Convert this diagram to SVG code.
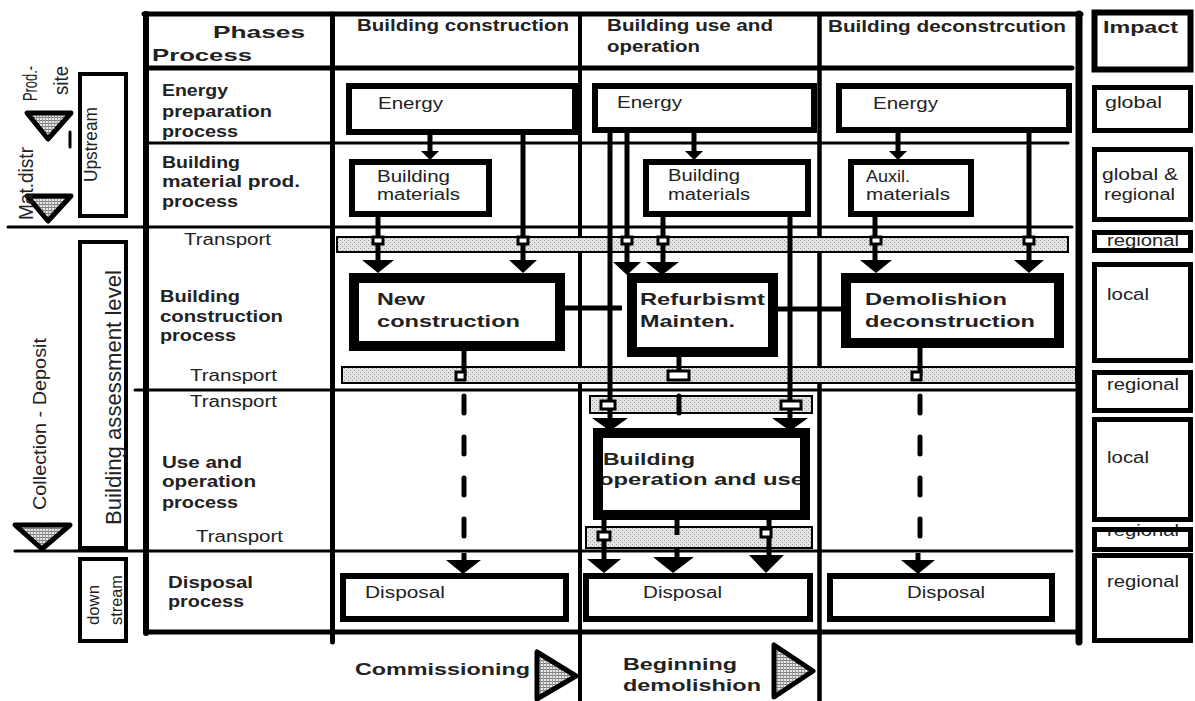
<svg xmlns="http://www.w3.org/2000/svg" width="1195" height="701" viewBox="0 0 1195 701">
<style>
text{font-family:"Liberation Sans",Arial,sans-serif;fill:#222}
.b{font-weight:bold;font-size:16px}
.h{font-weight:bold;font-size:17px}
.r{font-size:16px}
.rot{font-size:18px}
.fr{stroke:#000;stroke-linecap:round;fill:none}
.bx{fill:#fff;stroke:#000}
.band{fill:url(#dots);stroke:#000;stroke-width:2}
.cn{stroke:#000;stroke-width:5;fill:none}
.ah{fill:#000}
.jn{fill:#fff;stroke:#000;stroke-width:3}
.tri{fill:url(#hatch);stroke:#000;stroke-width:5;stroke-linejoin:round}
</style>
<defs>
<pattern id="dots" width="4" height="4" patternUnits="userSpaceOnUse">
<rect width="4" height="4" fill="#e4e4e4"/>
<rect width="1" height="1" fill="#999"/>
<rect x="2" y="2" width="1" height="1" fill="#999"/>
</pattern>
<pattern id="hatch" width="3" height="3" patternUnits="userSpaceOnUse">
<rect width="3" height="3" fill="#e8e8e8"/>
<rect width="3" height="1" fill="#777"/>
<rect width="1" height="3" fill="#999"/>
</pattern>
</defs>
<rect width="1195" height="701" fill="#fff"/>

<!-- frame and grid -->
<g id="grid">
<line class="fr" x1="8" y1="227" x2="1072" y2="227" stroke-width="3"/>
<line class="fr" x1="135" y1="390" x2="1075" y2="390" stroke-width="3"/>
<line class="fr" x1="15" y1="551" x2="1072" y2="551" stroke-width="3"/>
<line class="fr" x1="146" y1="143" x2="1068" y2="143" stroke-width="3"/>
<line class="fr" x1="146" y1="68" x2="1072" y2="68" stroke-width="5"/>
<line class="fr" x1="144" y1="14" x2="1081" y2="14" stroke-width="5"/>
<line class="fr" x1="146" y1="14" x2="146" y2="633" stroke-width="6"/>
<line class="fr" x1="146" y1="632" x2="1079" y2="632" stroke-width="5"/>
<line class="fr" x1="1079" y1="14" x2="1079" y2="642" stroke-width="7"/>
<line class="fr" x1="332.5" y1="14" x2="332.5" y2="642" stroke-width="5"/>
<line class="fr" x1="580" y1="14" x2="580" y2="701" stroke-width="4"/>
<line class="fr" x1="819.5" y1="14" x2="819.5" y2="701" stroke-width="4.5"/>
<line class="fr" x1="70" y1="132" x2="70" y2="147" stroke-width="3"/>
</g>

<!-- transport bands -->
<g id="bands">
<rect class="band" x="337" y="237" width="731" height="15"/>
<rect class="band" x="342" y="367" width="734" height="16"/>
<rect class="band" x="590" y="396" width="222" height="17"/>
<rect class="band" x="586" y="527" width="226" height="21"/>
</g>

<!-- connectors -->
<g id="connectors">
<line class="cn" x1="430" y1="135" x2="430" y2="153"/>
<line class="cn" x1="523" y1="135" x2="523" y2="262"/>
<line class="cn" x1="378" y1="217" x2="378" y2="262" stroke-width="6"/>
<line class="cn" x1="464" y1="351" x2="464" y2="376"/>
<line class="cn" x1="464" y1="396" x2="464" y2="537" stroke-width="6" stroke-linecap="round" stroke-dasharray="17 24"/>
<line class="cn" x1="464" y1="553" x2="464" y2="562"/>
<line class="cn" x1="610" y1="133" x2="610" y2="420"/>
<line class="cn" x1="627" y1="133" x2="627" y2="264"/>
<line class="cn" x1="694" y1="133" x2="694" y2="152"/>
<line class="cn" x1="663" y1="217" x2="663" y2="264" stroke-width="6"/>
<line class="cn" x1="790" y1="217" x2="790" y2="420"/>
<line class="cn" x1="558" y1="308" x2="622" y2="308" stroke-width="6"/>
<line class="cn" x1="776" y1="309" x2="843" y2="309" stroke-width="6"/>
<line class="cn" x1="679" y1="350" x2="679" y2="372" stroke-width="6"/>
<line class="cn" x1="679" y1="396" x2="679" y2="445" stroke-width="6" stroke-linecap="round" stroke-dasharray="17 24"/>
<line class="cn" x1="604" y1="515" x2="604" y2="562" stroke-width="5"/>
<line class="cn" x1="677" y1="515" x2="677" y2="535" stroke-width="6"/>
<line class="cn" x1="677" y1="548" x2="677" y2="560" stroke-width="6"/>
<line class="cn" x1="769" y1="515" x2="769" y2="560" stroke-width="6"/>
<line class="cn" x1="898" y1="133" x2="898" y2="152"/>
<line class="cn" x1="1029" y1="133" x2="1029" y2="262"/>
<line class="cn" x1="875" y1="217" x2="875" y2="262" stroke-width="6"/>
<line class="cn" x1="920" y1="348" x2="920" y2="376"/>
<line class="cn" x1="920" y1="396" x2="920" y2="537" stroke-width="6" stroke-linecap="round" stroke-dasharray="17 24"/>
<line class="cn" x1="918" y1="553" x2="918" y2="562"/>
<!-- arrowheads -->
<polygon class="ah" points="421,151 439,151 430,160"/>
<polygon class="ah" points="509,260 537,260 523,273"/>
<polygon class="ah" points="362,260 394,260 378,273"/>
<polygon class="ah" points="446,560 481,560 463,574"/>
<polygon class="ah" points="592,418 628,418 610,431"/>
<polygon class="ah" points="613,262 641,262 627,275"/>
<polygon class="ah" points="685,151 703,151 694,160"/>
<polygon class="ah" points="646,262 679,262 662,275"/>
<polygon class="ah" points="772,418 808,418 790,431"/>
<polygon class="ah" points="673,355 685,355 679,345"/>
<polygon class="ah" points="587,559 621,559 604,573"/>
<polygon class="ah" points="653,557 694,557 673,573"/>
<polygon class="ah" points="749,555 784,555 766,573"/>
<polygon class="ah" points="889,151 907,151 898,160"/>
<polygon class="ah" points="1014,260 1044,260 1029,273"/>
<polygon class="ah" points="860,260 892,260 876,273"/>
<polygon class="ah" points="901,560 935,560 918,574"/>
<!-- junctions -->
<rect class="jn" x="373" y="237" width="10" height="7"/>
<rect class="jn" x="518" y="237" width="10" height="7"/>
<rect class="jn" x="622" y="237" width="10" height="7"/>
<rect class="jn" x="658" y="237" width="10" height="7"/>
<rect class="jn" x="871" y="237" width="10" height="7"/>
<rect class="jn" x="1024" y="237" width="10" height="7"/>
<rect class="jn" x="456" y="372" width="9" height="8"/>
<rect class="jn" x="668" y="371" width="21" height="9"/>
<rect class="jn" x="912" y="372" width="9" height="8"/>
<rect class="jn" x="601" y="401" width="14" height="8"/>
<rect class="jn" x="781" y="401" width="20" height="8"/>
<rect class="jn" x="598" y="532" width="12" height="8"/>
<rect class="jn" x="761" y="529" width="10" height="8"/>
</g>

<!-- left side -->
<g id="side">
<polygon class="tri" points="27,113 71,113 48,139"/>
<polygon class="tri" points="27,196 71,196 48,221"/>
<polygon class="tri" points="15,525 70,525 42,549"/>
<rect class="bx" x="80" y="74" width="46" height="142" stroke-width="4"/>
<rect class="bx" x="80" y="242" width="46" height="306" stroke-width="4"/>
<rect class="bx" x="80" y="559" width="46" height="82" stroke-width="4"/>
<text class="rot" transform="translate(37,66) rotate(-90)" text-anchor="end" style="font-size:20px" textLength="35" lengthAdjust="spacingAndGlyphs">Prod.-</text>
<text class="rot" transform="translate(68,66) rotate(-90)" text-anchor="end" style="font-size:20px" textLength="29" lengthAdjust="spacingAndGlyphs">site</text>
<text class="rot" transform="translate(33,220) rotate(-90)" style="font-size:20px" textLength="73" lengthAdjust="spacingAndGlyphs">Mat.distr</text>
<text class="rot" transform="translate(97,182) rotate(-90)" textLength="75" lengthAdjust="spacingAndGlyphs">Upstream</text>
<text class="rot" transform="translate(46,510) rotate(-90)" style="font-size:19px" textLength="172" lengthAdjust="spacingAndGlyphs">Collection - Deposit</text>
<text class="rot" transform="translate(121,525) rotate(-90)" style="font-size:22px" textLength="255" lengthAdjust="spacingAndGlyphs">Building assessment level</text>
<text class="rot" transform="translate(99,625) rotate(-90)" style="font-size:17px" textLength="40" lengthAdjust="spacingAndGlyphs">down</text>
<text class="rot" transform="translate(122,625) rotate(-90)" style="font-size:17px" textLength="50" lengthAdjust="spacingAndGlyphs">stream</text>
</g>

<!-- header / row labels -->
<g id="labels">
<text class="h" x="213" y="38" textLength="92" lengthAdjust="spacingAndGlyphs">Phases</text>
<text class="h" x="152" y="61" textLength="100" lengthAdjust="spacingAndGlyphs">Process</text>
<text class="b" x="357" y="31" textLength="212" lengthAdjust="spacingAndGlyphs">Building construction</text>
<text class="b" x="607" y="31" textLength="166" lengthAdjust="spacingAndGlyphs">Building use and</text>
<text class="b" x="607" y="52" textLength="93" lengthAdjust="spacingAndGlyphs">operation</text>
<text class="b" x="828" y="32" textLength="238" lengthAdjust="spacingAndGlyphs">Building deconstrcution</text>
<text class="b" x="162" y="96" textLength="66" lengthAdjust="spacingAndGlyphs">Energy</text>
<text class="b" x="162" y="117" textLength="110" lengthAdjust="spacingAndGlyphs">preparation</text>
<text class="b" x="162" y="137" textLength="76" lengthAdjust="spacingAndGlyphs">process</text>
<text class="b" x="162" y="168" textLength="78" lengthAdjust="spacingAndGlyphs">Building</text>
<text class="b" x="162" y="187" textLength="138" lengthAdjust="spacingAndGlyphs">material prod.</text>
<text class="b" x="162" y="207" textLength="76" lengthAdjust="spacingAndGlyphs">process</text>
<text class="r" x="184" y="245" textLength="87" lengthAdjust="spacingAndGlyphs">Transport</text>
<text class="b" x="160" y="302" textLength="80" lengthAdjust="spacingAndGlyphs">Building</text>
<text class="b" x="160" y="322" textLength="123" lengthAdjust="spacingAndGlyphs">construction</text>
<text class="b" x="160" y="341" textLength="76" lengthAdjust="spacingAndGlyphs">process</text>
<text class="r" x="190" y="381" textLength="87" lengthAdjust="spacingAndGlyphs">Transport</text>
<text class="r" x="190" y="407" textLength="87" lengthAdjust="spacingAndGlyphs">Transport</text>
<text class="b" x="162" y="468" textLength="80" lengthAdjust="spacingAndGlyphs">Use and</text>
<text class="b" x="162" y="487" textLength="94" lengthAdjust="spacingAndGlyphs">operation</text>
<text class="b" x="162" y="508" textLength="76" lengthAdjust="spacingAndGlyphs">process</text>
<text class="r" x="196" y="542" textLength="87" lengthAdjust="spacingAndGlyphs">Transport</text>
<text class="b" x="168" y="588" textLength="85" lengthAdjust="spacingAndGlyphs">Disposal</text>
<text class="b" x="168" y="607" textLength="76" lengthAdjust="spacingAndGlyphs">process</text>
<text class="h" x="355" y="675" textLength="175" lengthAdjust="spacingAndGlyphs">Commissioning</text>
<text class="h" x="623" y="670" textLength="114" lengthAdjust="spacingAndGlyphs">Beginning</text>
<text class="h" x="623" y="691" textLength="138" lengthAdjust="spacingAndGlyphs">demolishion</text>
<polygon class="tri" points="537,652 537,699 576,676"/>
<polygon class="tri" points="774,645 774,697 813,671"/>
</g>

<!-- process nodes -->
<g id="energy1"><rect class="bx" x="349" y="86" width="226" height="46" stroke-width="6"/><text class="r" x="378" y="109" textLength="65" lengthAdjust="spacingAndGlyphs">Energy</text></g>
<g id="energy2"><rect class="bx" x="595" y="86" width="219" height="44" stroke-width="6"/><text class="r" x="617" y="108" textLength="65" lengthAdjust="spacingAndGlyphs">Energy</text></g>
<g id="energy3"><rect class="bx" x="839" y="86" width="230" height="44" stroke-width="6"/><text class="r" x="873" y="109" textLength="65" lengthAdjust="spacingAndGlyphs">Energy</text></g>
<g id="materials1"><rect class="bx" x="352" y="162" width="137" height="52" stroke-width="6"/><text class="r" x="377" y="182" textLength="73" lengthAdjust="spacingAndGlyphs">Building</text><text class="r" x="377" y="200" textLength="83" lengthAdjust="spacingAndGlyphs">materials</text></g>
<g id="materials2"><rect class="bx" x="646" y="162" width="162" height="52" stroke-width="6"/><text class="r" x="668" y="181" textLength="72" lengthAdjust="spacingAndGlyphs">Building</text><text class="r" x="668" y="200" textLength="82" lengthAdjust="spacingAndGlyphs">materials</text></g>
<g id="auxil"><rect class="bx" x="851" y="162" width="120" height="52" stroke-width="6"/><text class="r" x="866" y="182" textLength="44" lengthAdjust="spacingAndGlyphs">Auxil.</text><text class="r" x="866" y="200" textLength="84" lengthAdjust="spacingAndGlyphs">materials</text></g>
<g id="newconstruction"><rect class="bx" x="354" y="278" width="206" height="68" stroke-width="10"/><text class="h" x="377" y="305" textLength="48" lengthAdjust="spacingAndGlyphs">New</text><text class="h" x="377" y="327" textLength="143" lengthAdjust="spacingAndGlyphs">construction</text></g>
<g id="refurbishment"><rect class="bx" x="632" y="278" width="141" height="74" stroke-width="10"/><text class="h" x="640" y="305" textLength="125" lengthAdjust="spacingAndGlyphs">Refurbismt</text><text class="h" x="640" y="327" textLength="95" lengthAdjust="spacingAndGlyphs">Mainten.</text></g>
<g id="demolition"><rect class="bx" x="846" y="278" width="213" height="65" stroke-width="10"/><text class="h" x="865" y="305" textLength="142" lengthAdjust="spacingAndGlyphs">Demolishion</text><text class="h" x="865" y="327" textLength="170" lengthAdjust="spacingAndGlyphs">deconstruction</text></g>
<g id="operation"><rect fill="#fff" x="598" y="433" width="207" height="82"/><text class="h" x="603" y="465" textLength="92" lengthAdjust="spacingAndGlyphs">Building</text><text class="h" x="599" y="485" textLength="205" lengthAdjust="spacingAndGlyphs">operation and use</text><rect fill="none" stroke="#000" x="598" y="433" width="207" height="82" stroke-width="10"/></g>
<g id="disposal1"><rect class="bx" x="343" y="576" width="223" height="43" stroke-width="6"/><text class="r" x="365" y="598" textLength="80" lengthAdjust="spacingAndGlyphs">Disposal</text></g>
<g id="disposal2"><rect class="bx" x="586" y="576" width="224" height="43" stroke-width="6"/><text class="r" x="643" y="598" textLength="79" lengthAdjust="spacingAndGlyphs">Disposal</text></g>
<g id="disposal3"><rect class="bx" x="830" y="576" width="222" height="43" stroke-width="6"/><text class="r" x="907" y="598" textLength="78" lengthAdjust="spacingAndGlyphs">Disposal</text></g>

<!-- impact column -->
<g id="impact"><rect class="bx" x="1094.5" y="12.5" width="96" height="57" stroke-width="6"/><text class="h" x="1103" y="33" textLength="75" lengthAdjust="spacingAndGlyphs">Impact</text></g>
<g id="imp-global"><rect class="bx" x="1094.5" y="87.5" width="96" height="43" stroke-width="5"/><text class="r" x="1105" y="108" textLength="57" lengthAdjust="spacingAndGlyphs">global</text></g>
<g id="imp-globalregional"><rect class="bx" x="1094.5" y="149.5" width="96" height="70" stroke-width="5"/><text class="r" x="1102" y="180" textLength="76" lengthAdjust="spacingAndGlyphs">global &amp;</text><text class="r" x="1104" y="200" textLength="71" lengthAdjust="spacingAndGlyphs">regional</text></g>
<g id="imp-regional1"><rect class="bx" x="1094.5" y="232.5" width="96" height="18" stroke-width="5"/><text class="r" x="1107" y="246" textLength="72" lengthAdjust="spacingAndGlyphs">regional</text></g>
<g id="imp-local1"><rect class="bx" x="1094.5" y="264.5" width="96" height="96" stroke-width="5"/><text class="r" x="1107" y="300" textLength="42" lengthAdjust="spacingAndGlyphs">local</text></g>
<g id="imp-regional2"><rect class="bx" x="1094.5" y="372.5" width="96" height="38" stroke-width="5"/><text class="r" x="1107" y="390" textLength="72" lengthAdjust="spacingAndGlyphs">regional</text></g>
<g id="imp-local2"><rect class="bx" x="1094.5" y="419.5" width="96" height="100" stroke-width="5"/><text class="r" x="1107" y="463" textLength="42" lengthAdjust="spacingAndGlyphs">local</text></g>
<g id="imp-regional3"><rect fill="#fff" x="1094.5" y="529.5" width="96" height="20"/><text class="r" x="1107" y="536" textLength="72" lengthAdjust="spacingAndGlyphs">regional</text><rect fill="none" stroke="#000" x="1094.5" y="529.5" width="96" height="20" stroke-width="5"/></g>
<g id="imp-regional4"><rect class="bx" x="1094.5" y="555.5" width="96" height="85" stroke-width="5"/><text class="r" x="1107" y="587" textLength="72" lengthAdjust="spacingAndGlyphs">regional</text></g>
</svg>
